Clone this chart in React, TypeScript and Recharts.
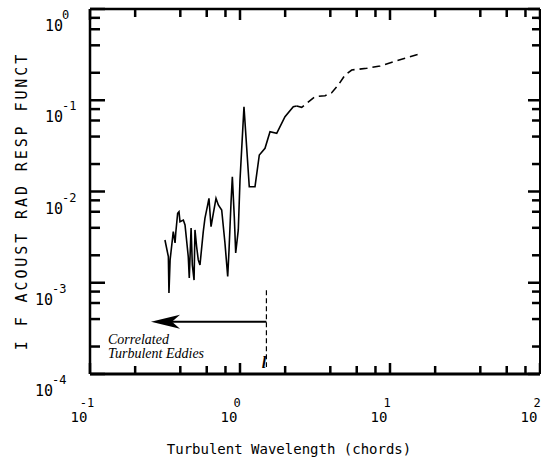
import React from 'react';
import { LineChart, Line, XAxis, YAxis, ReferenceLine } from 'recharts';

// turbulent wavelength (chords) vs IF acoustic radiation response function
const wavelengthLow = [
  0.316, 0.333, 0.336, 0.342, 0.359, 0.369, 0.373, 0.384, 0.392, 0.398,
  0.419, 0.43, 0.452, 0.459, 0.472, 0.481, 0.494, 0.501, 0.514, 0.527,
  0.541, 0.569, 0.584, 0.609, 0.621, 0.641, 0.664, 0.692, 0.717, 0.755,
  0.794, 0.828, 0.845, 0.871, 0.889, 0.916, 0.936, 0.974, 1.0, 1.063,
  1.153, 1.259, 1.345, 1.468, 1.585, 1.757, 1.995, 2.266, 2.388,
];
const responseLow = [
  0.00294, 0.00193, 0.000772, 0.00178, 0.00363, 0.00273, 0.00351, 0.00577, 0.00601, 0.00467,
  0.00487, 0.00429, 0.00193, 0.00113, 0.00398, 0.00157, 0.00107, 0.00379, 0.00248, 0.00178,
  0.00157, 0.00363, 0.00512, 0.00712, 0.00842, 0.00411, 0.00577, 0.00842, 0.00712, 0.00627,
  0.00271, 0.00117, 0.00229, 0.00748, 0.01453, 0.0053, 0.00212, 0.00379, 0.01337, 0.085,
  0.01129, 0.01129, 0.02512, 0.02974, 0.0452, 0.0434, 0.066, 0.085, 0.0865,
];
const wavelengthHigh = [2.388, 2.578, 3.162, 3.687, 4.087, 4.521, 5.012, 5.556, 6.994, 8.577, 12.59, 16.27];
const responseHigh = [0.0865, 0.0837, 0.1094, 0.1122, 0.121, 0.1469, 0.1891, 0.2146, 0.2239, 0.2373, 0.2883, 0.3269];

const xTicks = [0.1, 0.2, 0.4, 0.6, 0.8, 1, 2, 4, 6, 8, 10, 20, 40, 60, 80, 100];
const yTicks = [
  1e-4, 2e-4, 4e-4, 6e-4, 8e-4, 1e-3, 2e-3, 4e-3, 6e-3, 8e-3,
  0.01, 0.02, 0.04, 0.06, 0.08, 0.1, 0.2, 0.4, 0.6, 0.8, 1,
];

// annotation: correlated eddy length
const eddyLength = 1.5;
const arrowTip = 0.255;
const arrowLevel = 3.74e-4;
const eddyLineTop = 8.3e-4;
const eddyLineBottom = 1.19e-4;

const lowData = wavelengthLow.map((w, i) => ({ w, r: responseLow[i] }));
const highData = wavelengthHigh.map((w, i) => ({ w, r: responseHigh[i] }));

const INK = '#000';
const MONO = 'DejaVu Sans Mono, monospace';

const decade = (v: number) => {
  const e = Math.log10(v);
  const k = Math.round(e);
  return { k, major: Math.abs(e - k) < 1e-6 };
};
const expText = (k: number) => (k === 0 ? '0' : k < 0 ? '-' + Math.abs(k) : String(k));

// axis labels (10^n); the inward tick marks are drawn by TickMarks below
const BottomLabel = (props: any) => {
  const { x, y, payload } = props;
  const { k, major } = decade(payload.value);
  if (!major) return <g />;
  return (
    <g fontFamily={MONO} fill={INK}>
      <text x={x - 11} y={y + 48} fontSize={14} textAnchor="middle">10</text>
      <text x={x - 3} y={y + 33} fontSize={12} textAnchor="middle">{expText(k)}</text>
    </g>
  );
};

const LeftLabel = (props: any) => {
  const { x, y, payload } = props;
  const { k, major } = decade(payload.value);
  if (!major) return <g />;
  const edge = k <= -3 ? x - 37 : x - 27;
  return (
    <g fontFamily={MONO} fill={INK}>
      <text x={edge} y={y + 22} fontSize={15} textAnchor="end">10</text>
      <text x={edge - 1} y={y + 10} fontSize={12} textAnchor="start">{expText(k)}</text>
    </g>
  );
};

// draws only the two ends of a reference line: short inward ticks on opposite frame sides
const TickMarks = (props: any) => {
  const { x1, y1, x2, y2, tickLen, tickWidth } = props;
  if (x1 == null || y1 == null) return <g />;
  const vertical = Math.abs(x1 - x2) < 0.5;
  if (vertical) {
    const top = Math.min(y1, y2);
    const bot = Math.max(y1, y2);
    return (
      <g>
        <line x1={x1} y1={top} x2={x1} y2={top + tickLen} stroke={INK} strokeWidth={tickWidth} />
        <line x1={x1} y1={bot} x2={x1} y2={bot - tickLen} stroke={INK} strokeWidth={tickWidth} />
      </g>
    );
  }
  const left = Math.min(x1, x2);
  const right = Math.max(x1, x2);
  return (
    <g>
      <line x1={left} y1={y1} x2={left + tickLen} y2={y1} stroke={INK} strokeWidth={tickWidth} />
      <line x1={right} y1={y1} x2={right - tickLen * 0.8} y2={y1} stroke={INK} strokeWidth={tickWidth} />
    </g>
  );
};

const ArrowShape = (props: any) => {
  const { x1, y1, x2 } = props;
  const left = Math.min(x1, x2);
  const right = Math.max(x1, x2);
  const y = y1;
  return (
    <g>
      <line x1={left + 20} y1={y} x2={right} y2={y} stroke={INK} strokeWidth={2} />
      <path d={`M${left},${y} L${left + 29},${y - 7} L${left + 21},${y} L${left + 29},${y + 7} Z`} fill={INK} />
    </g>
  );
};

export default function App() {
  return (
    <div style={{ position: 'absolute', left: 0, top: 0, width: 541, height: 461, background: '#fff' }}>
      <LineChart width={541} height={461} margin={{ top: 8, right: 0, bottom: 86, left: 89 }}>
        <XAxis
          xAxisId="bottom"
          dataKey="w"
          type="number"
          scale="log"
          domain={[0.1, 100]}
          allowDataOverflow
          ticks={xTicks}
          height={1}
          tickSize={0}
          tickMargin={0}
          tickLine={false}
          tick={<BottomLabel />}
          axisLine={{ stroke: INK, strokeWidth: 3 }}
          interval={0}
        />
        <XAxis
          xAxisId="top"
          orientation="top"
          dataKey="w"
          type="number"
          scale="log"
          domain={[0.1, 100]}
          allowDataOverflow
          height={1}
          tickLine={false}
          tick={false}
          axisLine={{ stroke: INK, strokeWidth: 2.5 }}
        />
        <YAxis
          yAxisId="left"
          type="number"
          scale="log"
          domain={[1e-4, 1]}
          allowDataOverflow
          ticks={yTicks}
          width={1}
          tickSize={0}
          tickMargin={0}
          tickLine={false}
          tick={<LeftLabel />}
          axisLine={{ stroke: INK, strokeWidth: 2.5 }}
          interval={0}
        />
        <YAxis
          yAxisId="right"
          orientation="right"
          type="number"
          scale="log"
          domain={[1e-4, 1]}
          allowDataOverflow
          width={1}
          tickLine={false}
          tick={false}
          axisLine={{ stroke: INK, strokeWidth: 2 }}
        />
        {xTicks.map((v) => (
          <ReferenceLine
            key={'xt' + v}
            xAxisId="bottom"
            yAxisId="left"
            x={v}
            shape={<TickMarks tickLen={decade(v).major ? 11 : 8} tickWidth={2.5} />}
          />
        ))}
        {yTicks.map((v) => (
          <ReferenceLine
            key={'yt' + v}
            xAxisId="bottom"
            yAxisId="left"
            y={v}
            shape={<TickMarks tickLen={decade(v).major ? 15 : 10} tickWidth={2.5} />}
          />
        ))}
        <Line
          xAxisId="bottom"
          yAxisId="left"
          data={lowData}
          dataKey="r"
          type="linear"
          stroke={INK}
          strokeWidth={1.6}
          dot={false}
          isAnimationActive={false}
        />
        <Line
          xAxisId="bottom"
          yAxisId="left"
          data={highData}
          dataKey="r"
          type="linear"
          stroke={INK}
          strokeWidth={1.6}
          strokeDasharray="8 5"
          dot={false}
          isAnimationActive={false}
        />
        <ReferenceLine
          xAxisId="bottom"
          yAxisId="left"
          segment={[{ x: eddyLength, y: eddyLineTop }, { x: eddyLength, y: eddyLineBottom }]}
          stroke={INK}
          strokeWidth={1.2}
          strokeDasharray="5 3"
        />
        <ReferenceLine
          xAxisId="bottom"
          yAxisId="left"
          segment={[{ x: arrowTip, y: arrowLevel }, { x: eddyLength, y: arrowLevel }]}
          shape={<ArrowShape />}
        />
      </LineChart>
      <svg
        width={541}
        height={461}
        style={{ position: 'absolute', left: 0, top: 0, pointerEvents: 'none' }}
      >
        <text x={289} y={454} fontFamily={MONO} fontSize={14} fill={INK} textAnchor="middle">
          Turbulent Wavelength (chords)
        </text>
        <text
          x={27}
          y={201}
          transform="rotate(-90, 27, 201)"
          fontFamily={MONO}
          fontSize={15}
          letterSpacing={2.9}
          fill={INK}
          textAnchor="middle"
        >
          I F ACOUST RAD RESP FUNCT
        </text>
        <g fontFamily="Liberation Serif, serif" fontStyle="italic" fill={INK} fontSize={14}>
          <text x={108} y={344}>Correlated</text>
          <text x={108} y={358}>Turbulent Eddies</text>
        </g>
        <text x={264} y={368} fontFamily="Liberation Serif, serif" fontStyle="italic" fontWeight="bold" fontSize={16} fill={INK} textAnchor="middle">
          l
        </text>
      </svg>
    </div>
  );
}
